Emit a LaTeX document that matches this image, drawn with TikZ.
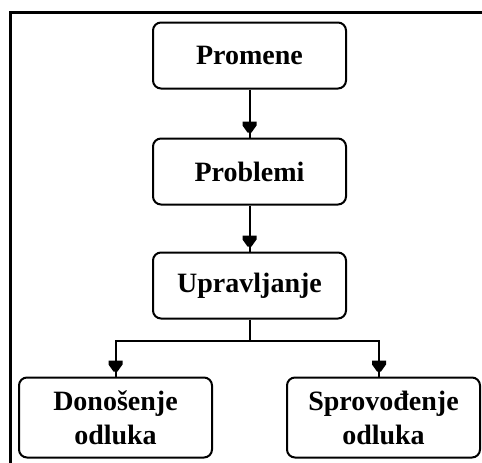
\documentclass[tikz,border=0pt]{standalone}
\usepackage{fontspec}
\setmainfont{Liberation Serif}
\begin{document}
\begin{tikzpicture}[x=1pt,y=-1pt,
  box/.style={draw, line width=2pt, rounded corners=8pt, minimum width=193pt,
    font=\fontsize{28}{34}\selectfont\bfseries, align=center, inner sep=0pt},
  link/.style={line width=2pt},
  frame/.style={line width=3pt}]
\useasboundingbox (0,0) rectangle (482,463);
\clip (0,0) rectangle (482,463);
% outer frame (its right and bottom sides run off the page)
\draw[frame] (10,12) rectangle (495,475);
% boxes
\node[box, minimum height=66pt] (prom) at (249.5,55.5) {Promene};
\node[box, minimum height=66pt] (prob) at (249.5,171.5) {Problemi};
\node[box, minimum height=66pt] (upr)  at (249.5,285.5) {Upravljanje};
\node[box, minimum height=80pt] (don)  at (115.5,417.5) {Donošenje\\odluka};
\node[box, minimum height=80pt] (spr)  at (383.5,417.5) {Sprovođenje\\odluka};
% connectors
\draw[link] (prom.south) -- (prob.north);
\draw[link] (prob.south) -- (upr.north);
\draw[link] (upr.south) -- ++(0,21) coordinate (fork);
\coordinate (sprtop) at ([xshift=-4.5pt]spr.north);
\draw[link] (fork) -| (don.north);
\draw[link] (fork) -| (sprtop);
% filled tee-shaped heads sitting just above each target box
\foreach \t in {prob.north, upr.north, don.north, sprtop}{
  \fill (\t) ++(-7,-16) -- ++(14,0) -- ++(0,4) -- ++(-5,7) -- ++(-4,0) -- ++(-5,-7) -- cycle;
}
\end{tikzpicture}
\end{document}
